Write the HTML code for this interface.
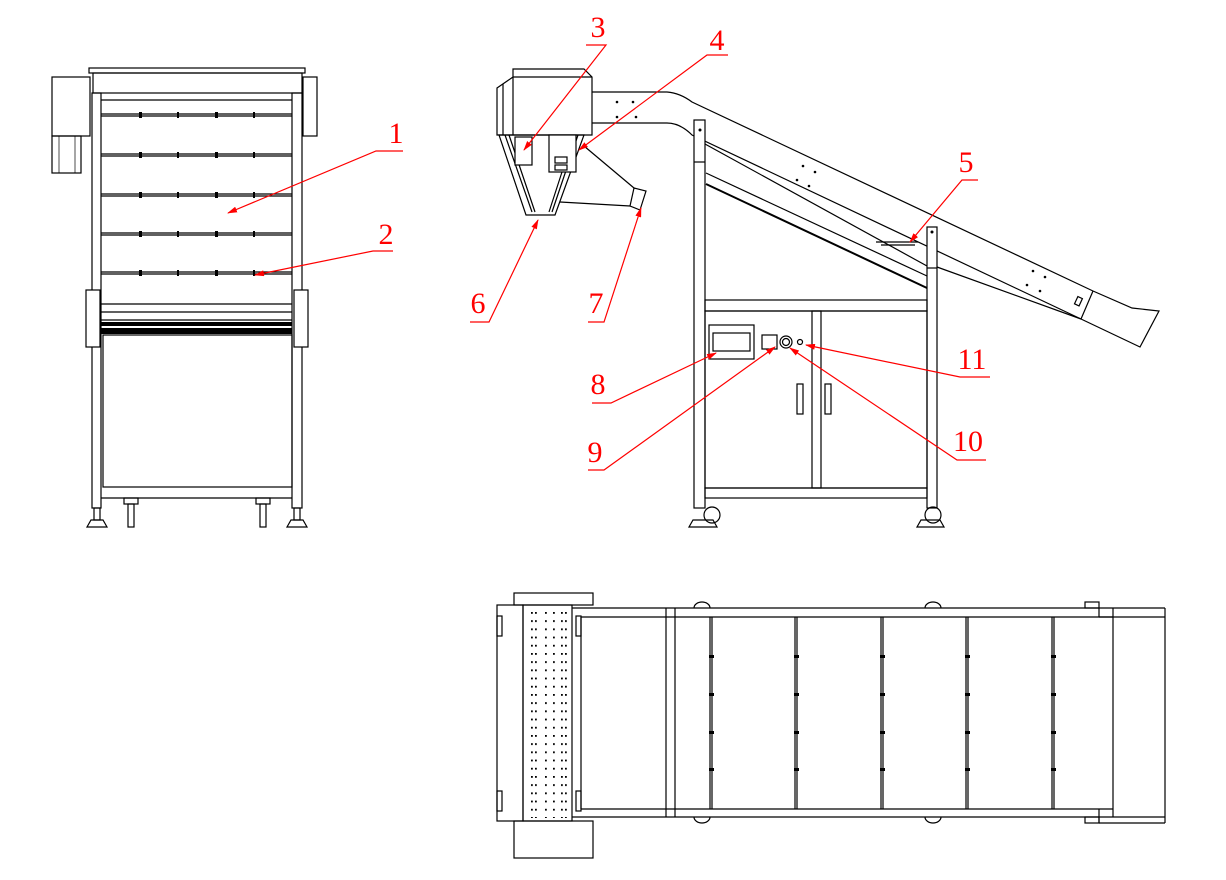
<!DOCTYPE html>
<html><head><meta charset="utf-8"><style>
html,body{margin:0;padding:0;background:#fff}
svg{display:block}
.l{stroke:#000;stroke-width:1.2;fill:none}
.t{stroke:#000;stroke-width:0.7;fill:none}
.w{stroke:#000;stroke-width:1.2;fill:#fff}
.r{stroke:#f00;stroke-width:1.2;fill:none}
.n{fill:#f00;font-family:"Liberation Serif",serif;font-size:30px;text-anchor:middle}
</style></head><body>
<svg width="1226" height="880" viewBox="0 0 1226 880" xmlns="http://www.w3.org/2000/svg">
<defs><marker id="a" markerWidth="10" markerHeight="6" refX="9" refY="3" orient="auto" markerUnits="userSpaceOnUse"><path d="M0,0 L10,3 L0,6 z" fill="#f00"/></marker>
<pattern id="pd" x="534" y="612" width="30" height="8.2" patternUnits="userSpaceOnUse">
<rect x="1" y="0" width="1.8" height="1.8" fill="#000"/><rect x="11" y="0" width="1.8" height="1.8" fill="#000"/><rect x="19" y="0" width="1.8" height="1.8" fill="#000"/><rect x="27" y="0" width="1.8" height="1.8" fill="#000"/>
</pattern></defs>

<!-- FRONT VIEW -->
<rect class="l" x="89" y="68" width="216" height="5"/>
<rect class="l" x="93" y="73" width="209" height="20"/>
<rect class="l" x="52" y="77" width="38" height="59"/>
<rect class="l" x="52" y="136" width="29" height="37"/>
<line class="t" x1="59" y1="136" x2="59" y2="173"/><line class="t" x1="75" y1="136" x2="75" y2="173"/>
<rect class="l" x="303" y="77" width="14" height="59"/>
<rect class="l" x="92" y="93" width="9" height="415"/>
<rect class="l" x="292" y="93" width="10" height="415"/>
<line class="l" x1="101" y1="100" x2="292" y2="100"/>
<g class="l">
<line x1="101" y1="114" x2="292" y2="114"/><line x1="101" y1="116" x2="292" y2="116"/>
<line x1="101" y1="154" x2="292" y2="154"/><line x1="101" y1="156" x2="292" y2="156"/>
<line x1="101" y1="194" x2="292" y2="194"/><line x1="101" y1="196" x2="292" y2="196"/>
<line x1="101" y1="233" x2="292" y2="233"/><line x1="101" y1="235" x2="292" y2="235"/>
<line x1="101" y1="272" x2="292" y2="272"/><line x1="101" y1="274" x2="292" y2="274"/>
</g>
<g fill="#000">
<rect x="139" y="112" width="3" height="6"/><rect x="177" y="112" width="2" height="6"/><rect x="215" y="112" width="3" height="6"/><rect x="253" y="112" width="2" height="6"/>
<rect x="139" y="152" width="3" height="6"/><rect x="177" y="152" width="2" height="6"/><rect x="215" y="152" width="3" height="6"/><rect x="253" y="152" width="2" height="6"/>
<rect x="139" y="192" width="3" height="6"/><rect x="177" y="192" width="2" height="6"/><rect x="215" y="192" width="3" height="6"/><rect x="253" y="192" width="2" height="6"/>
<rect x="139" y="231" width="3" height="6"/><rect x="177" y="231" width="2" height="6"/><rect x="215" y="231" width="3" height="6"/><rect x="253" y="231" width="2" height="6"/>
<rect x="139" y="270" width="3" height="6"/><rect x="177" y="270" width="2" height="6"/><rect x="215" y="270" width="3" height="6"/><rect x="253" y="270" width="2" height="6"/>
</g>
<rect class="w" x="86" y="290" width="14" height="57"/>
<rect class="w" x="294" y="290" width="14" height="57"/>
<line class="l" x1="101" y1="304" x2="292" y2="304"/>
<line class="l" x1="101" y1="312" x2="292" y2="312"/>
<line class="l" x1="101" y1="320" x2="292" y2="320"/>
<rect x="101" y="322" width="191" height="4" fill="#000"/>
<rect x="101" y="328" width="191" height="6" fill="#000"/>
<rect class="l" x="103" y="335" width="189" height="152"/>
<line class="l" x1="101" y1="498" x2="292" y2="498"/>
<g class="l">
<rect x="124" y="498" width="14" height="6"/><rect x="128" y="504" width="6" height="23"/>
<rect x="256" y="498" width="14" height="6"/><rect x="260" y="504" width="6" height="23"/>
<path d="M87,527 L107,527 L103,520 L91,520 Z"/><rect x="94" y="508" width="6" height="12"/>
<path d="M287,527 L307,527 L303,520 L291,520 Z"/><rect x="294" y="508" width="6" height="12"/>
</g>

<!-- SIDE VIEW -->
<g class="l">
<path d="M497,88 L513,77 L513,69 L584,69 L592,77 L592,135 L497,135 Z"/>
<line x1="513" y1="77" x2="592" y2="77"/>
<line x1="513" y1="77" x2="513" y2="135"/>
<line x1="503" y1="84" x2="503" y2="135"/>
<path d="M499,135 L584,135 L555,215 L526,215 Z"/>
<path d="M505,135 L532,212" /><path d="M509,135 L535,212"/><path d="M578,135 L552,212"/><path d="M574,135 L549,212"/>
<rect x="515" y="137" width="17" height="28" fill="#fff"/>
<rect x="549" y="135" width="27" height="37" fill="#fff"/>
<rect x="555" y="157" width="12" height="6"/><rect x="555" y="165" width="12" height="5"/>
<line x1="584" y1="146" x2="634" y2="188"/>
<line x1="560" y1="202" x2="630" y2="206"/>
<path d="M634,188 L646,191 L640,210 L630,206 Z"/>
<path d="M592,92 L667,92 Q680,93 692,102 L1093,291 L1132,308 L1159,311 L1140,347 L1081,319 L692,135 Q680,123 667,123 L592,123"/>
<line x1="1093" y1="291" x2="1081" y2="319"/>
<rect x="1076" y="297" width="5" height="8" transform="rotate(25 1078 301)"/>
<line x1="705" y1="144" x2="927" y2="266"/>
<line x1="706" y1="173" x2="927" y2="276"/>
<line x1="706" y1="184" x2="927" y2="288" stroke-width="2"/>
<line x1="937" y1="267" x2="1081" y2="319"/>
<rect x="694" y="120" width="11" height="388" fill="#fff"/>
<line x1="694" y1="162" x2="705" y2="162"/>
<rect x="927" y="227" width="10" height="281" fill="#fff"/>
<line x1="927" y1="268" x2="937" y2="268"/>
<rect x="705" y="300" width="222" height="11"/>
<rect x="705" y="311" width="222" height="177"/>
<rect x="812" y="311" width="9" height="177"/>
<rect x="705" y="488" width="222" height="10"/>
<rect x="709" y="325" width="45" height="34"/>
<rect x="713" y="333" width="37" height="18"/>
<rect x="762" y="335" width="15" height="14"/>
<circle cx="786" cy="342" r="6"/><circle cx="786" cy="342" r="3.5"/>
<circle cx="800" cy="342" r="2.5"/>
<rect x="797" y="384" width="6" height="30"/>
<rect x="825" y="384" width="6" height="30"/>
<path d="M689,527 L717,527 L713,520 L693,520 Z"/><circle cx="712" cy="515" r="8"/>
<path d="M917,527 L944,527 L940,520 L921,520 Z"/><circle cx="933" cy="515" r="8"/>
<path d="M876,242 L918,242 M881,245 L915,245"/>
</g>
<g fill="#000"><circle cx="617" cy="102" r="1.3"/><circle cx="633" cy="102" r="1.3"/><circle cx="617" cy="117" r="1.3"/><circle cx="636" cy="117" r="1.3"/>
<circle cx="803" cy="166" r="1.3"/><circle cx="815" cy="172" r="1.3"/><circle cx="797" cy="180" r="1.3"/><circle cx="809" cy="186" r="1.3"/>
<circle cx="1033" cy="271" r="1.3"/><circle cx="1045" cy="277" r="1.3"/><circle cx="1027" cy="285" r="1.3"/><circle cx="1040" cy="291" r="1.3"/>
<circle cx="700" cy="130" r="1.5"/><circle cx="932" cy="232" r="1.5"/></g>

<!-- TOP VIEW -->
<g class="l">
<rect x="514" y="593" width="79" height="12"/>
<rect x="514" y="821" width="79" height="37"/>
<rect x="497" y="605" width="26" height="216"/>
<rect x="523" y="605" width="49" height="216"/>
<line x1="572" y1="608" x2="1165" y2="608"/>
<line x1="572" y1="817" x2="1165" y2="817"/>
<line x1="581" y1="617" x2="1113" y2="617"/>
<line x1="581" y1="809" x2="1113" y2="809"/>
<line x1="581" y1="617" x2="581" y2="809"/>
<line x1="666" y1="608" x2="666" y2="817"/>
<line x1="675" y1="608" x2="675" y2="817"/>
<line x1="1113" y1="608" x2="1113" y2="817"/>
<line x1="1165" y1="608" x2="1165" y2="823"/>
<line x1="1099" y1="608" x2="1099" y2="617"/><line x1="1099" y1="809" x2="1099" y2="823"/>
<line x1="1099" y1="617" x2="1165" y2="617"/><line x1="1099" y1="823" x2="1165" y2="823"/>
<rect x="1085" y="602" width="14" height="6"/><rect x="1085" y="817" width="14" height="6"/>
<line x1="710" y1="617" x2="710" y2="809"/><line x1="712" y1="617" x2="712" y2="809"/>
<line x1="795" y1="617" x2="795" y2="809"/><line x1="797" y1="617" x2="797" y2="809"/>
<line x1="881" y1="617" x2="881" y2="809"/><line x1="883" y1="617" x2="883" y2="809"/>
<line x1="966" y1="617" x2="966" y2="809"/><line x1="968" y1="617" x2="968" y2="809"/>
<line x1="1052" y1="617" x2="1052" y2="809"/><line x1="1054" y1="617" x2="1054" y2="809"/>
<path d="M694,608 A8,6 0 0 1 710,608"/><path d="M925,608 A8,6 0 0 1 941,608"/>
<path d="M694,817 A8,6 0 0 0 710,817"/><path d="M925,817 A8,6 0 0 0 941,817"/>
<rect x="497" y="616" width="5" height="20"/><rect x="497" y="791" width="5" height="20"/>
<rect x="576" y="616" width="5" height="20"/><rect x="576" y="791" width="5" height="20"/>
</g>
<rect x="530" y="610" width="38" height="208" fill="url(#pd)"/>
<g fill="#000">
<rect x="709" y="655" width="5" height="3"/><rect x="709" y="693" width="5" height="3"/><rect x="709" y="731" width="5" height="3"/><rect x="709" y="768" width="5" height="3"/>
<rect x="794" y="655" width="5" height="3"/><rect x="794" y="693" width="5" height="3"/><rect x="794" y="731" width="5" height="3"/><rect x="794" y="768" width="5" height="3"/>
<rect x="880" y="655" width="5" height="3"/><rect x="880" y="693" width="5" height="3"/><rect x="880" y="731" width="5" height="3"/><rect x="880" y="768" width="5" height="3"/>
<rect x="965" y="655" width="5" height="3"/><rect x="965" y="693" width="5" height="3"/><rect x="965" y="731" width="5" height="3"/><rect x="965" y="768" width="5" height="3"/>
<rect x="1051" y="655" width="5" height="3"/><rect x="1051" y="693" width="5" height="3"/><rect x="1051" y="731" width="5" height="3"/><rect x="1051" y="768" width="5" height="3"/>
</g>

<!-- LABELS -->
<text class="n" x="396" y="143">1</text>
<polyline class="r" points="403,151 376,151 228,213" marker-end="url(#a)"/>
<text class="n" x="386" y="244">2</text>
<polyline class="r" points="393,251 373,251 255,275" marker-end="url(#a)"/>
<text class="n" x="598" y="37">3</text>
<polyline class="r" points="586,45 606,45 524,150" marker-end="url(#a)"/>
<text class="n" x="717" y="50">4</text>
<polyline class="r" points="728,55 707,55 579,150" marker-end="url(#a)"/>
<text class="n" x="966" y="172">5</text>
<polyline class="r" points="978,180 962,180 910,242" marker-end="url(#a)"/>
<text class="n" x="478" y="313">6</text>
<polyline class="r" points="470,322 489,322 538,220" marker-end="url(#a)"/>
<text class="n" x="596" y="313">7</text>
<polyline class="r" points="588,322 604,322 641,208" marker-end="url(#a)"/>
<text class="n" x="598" y="394">8</text>
<polyline class="r" points="592,403 611,403 716,353" marker-end="url(#a)"/>
<text class="n" x="595" y="462">9</text>
<polyline class="r" points="588,470 604,470 775,347" marker-end="url(#a)"/>
<text class="n" x="968" y="451">10</text>
<polyline class="r" points="986,460 957,460 790,348" marker-end="url(#a)"/>
<text class="n" x="972" y="369">11</text>
<polyline class="r" points="990,377 960,377 806,345" marker-end="url(#a)"/>
</svg>
</body></html>
